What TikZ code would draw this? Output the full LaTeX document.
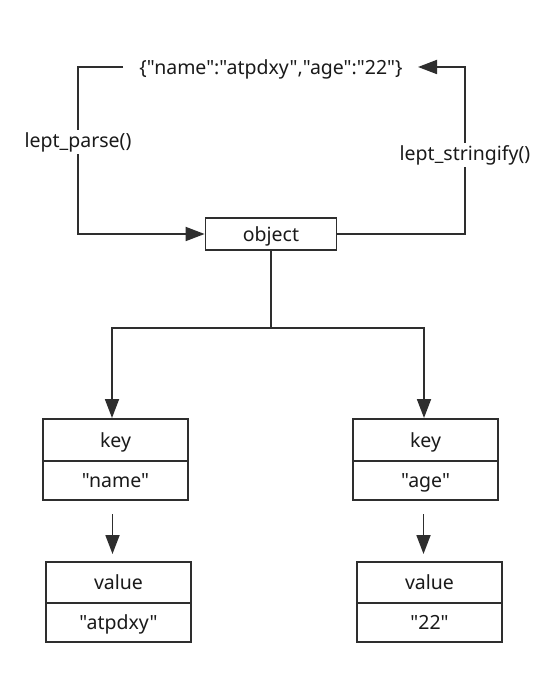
\documentclass[tikz,border=0pt]{standalone}
\usepackage{fontspec}
\setmainfont{Noto Sans}[Ligatures=TeXOff]
\usetikzlibrary{arrows.meta}
\definecolor{ink}{HTML}{2E2E2E}
\definecolor{txt}{HTML}{1A1A1A}
\begin{document}
\begin{tikzpicture}[x=1pt,y=-1pt,
  conn/.style={draw=ink, line width=1.8pt},
  arr/.style={conn, -{Triangle[length=19pt,width=14pt]}},
  lbl/.style={text=txt, font=\fontsize{19.5}{23}\selectfont, inner sep=1pt},
  cell/.style={draw=ink, line width=2pt, text=txt, font=\fontsize{19.5}{23}\selectfont,
    minimum width=145pt, inner sep=0pt, text height=16.5pt, text depth=2.5pt}
]
\useasboundingbox[fill=white] (0,0) rectangle (554,692);
% top json
\node[lbl] (json) at (271,69) {\{"name":"atpdxy","age":"22"\}};
\coordinate (jl) at (123,67);
\coordinate (jr) at (418,67);
% object
\node[cell, minimum width=131pt, minimum height=32pt, line width=1.8pt] (obj) at (271,234) {object};
% key/value boxes
\node[cell, minimum height=42pt] (k1) at (115.5,440) {key};
\node[cell, minimum height=39pt] (n1) at (115.5,480.5) {"name"};
\node[cell, minimum height=41pt] (v1) at (118.5,582.5) {value};
\node[cell, minimum height=39pt] (w1) at (118.5,622.5) {"atpdxy"};
\node[cell, minimum height=42pt] (k2) at (425.5,440) {key};
\node[cell, minimum height=39pt] (n2) at (425.5,480.5) {"age"};
\node[cell, minimum height=41pt] (v2) at (429.5,582.5) {value};
\node[cell, minimum height=39pt] (w2) at (429.5,622.5) {"22"};
% connectors
\draw[arr] (jl) -- (78,67) |- (obj.west);
\draw[arr] (obj.east) -| (465,67) -- (jr);
\draw[conn] (obj.south) -- (271,328) coordinate (tr);
\draw[arr] (tr) -| ([xshift=-3.5pt]k1.north);
\draw[arr] (tr) -| ([xshift=-1.5pt]k2.north);
\draw[arr] ([xshift=-3pt,yshift=-13pt]n1.south) -- ++(0,40);
\draw[arr] ([xshift=-2pt,yshift=-13pt]n2.south) -- ++(0,40);
% labels
\node[lbl, fill=white, inner sep=2pt] (lp) at (78,142) {lept\_parse()};
\node[lbl, fill=white, inner sep=2pt] (ls) at (465,155) {lept\_stringify()};
\end{tikzpicture}
\end{document}
